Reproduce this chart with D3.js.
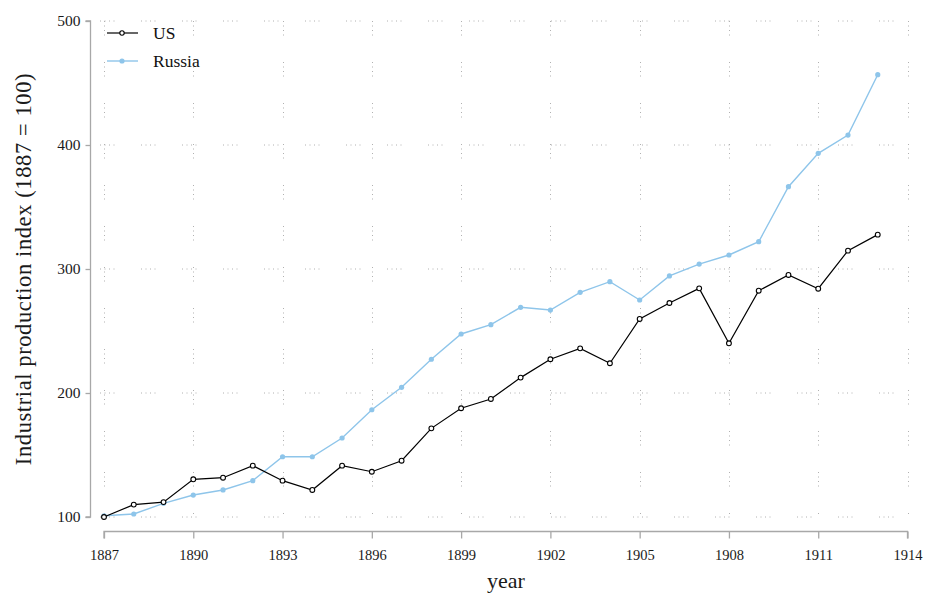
<!DOCTYPE html>
<html><head><meta charset="utf-8">
<script src="https://cdn.jsdelivr.net/npm/d3@7"></script>
<style>body{margin:0;background:#fff}svg{display:block}text{font-family:"Liberation Serif","Times New Roman",serif}</style>
</head><body><svg id="c" width="925" height="595"></svg>
<script>
const years = d3.range(1887, 1914);
const usValues = [100,110,112,130.4,131.7,141.4,129.3,121.8,141.4,136.5,145.4,171.5,187.7,195.2,212.4,227.2,236,224,259.7,272.6,284.4,240.1,282.5,295.2,284.1,314.8,327.7];
const russiaValues = [101,102.4,111,117.7,121.8,129.3,148.6,148.6,163.7,186.5,204.6,227.2,247.6,255.1,269.1,266.9,281.2,289.8,275,294.4,304,311.3,322,366.4,393.3,408,456.7];
const xTicks = [1887,1890,1893,1896,1899,1902,1905,1908,1911,1914];
const yTicks = [100,200,300,400,500];
const seriesNames = ["US","Russia"];

const svg = d3.select("#c");
const x = d3.scaleLinear().domain([1887,1914]).range([104,907.5]);
const y = d3.scaleLinear().domain([100,500]).range([517,21]);
const axisColor = "#a8a8a8", gridColor = "#b0b0b0";
const black = "#000", blue = "#8ec5ea";

// grid
const g = svg.append("g");
g.selectAll("line.h").data(yTicks).enter().append("line")
  .attr("x1", 92).attr("x2", 910).attr("y1", d=>y(d)).attr("y2", d=>y(d))
  .attr("stroke", gridColor).attr("stroke-width",1).attr("stroke-dasharray","1,3.5,1,3.5,1,3.5,1,26.5")
  .attr("stroke-dashoffset", -8);
g.selectAll("line.v").data(xTicks).enter().append("line")
  .attr("y1", y(500)).attr("y2", y(100)).attr("x1", d=>Math.round(x(d))+0.5).attr("x2", d=>Math.round(x(d))+0.5)
  .attr("stroke", gridColor).attr("stroke-width",1).attr("stroke-dasharray","1,3.5,1,3.5,1,3.5,1,26.5");

// axes
const ya = svg.append("g").attr("transform","translate(90.5,0)")
  .call(d3.axisLeft(y).tickValues(yTicks).tickSize(5).tickPadding(5).tickSizeOuter(0));
const xa = svg.append("g").attr("transform","translate(0,531.5)")
  .call(d3.axisBottom(x).tickValues(xTicks).tickFormat(d3.format("d")).tickSize(7).tickPadding(11).tickSizeOuter(0));
[ya,xa].forEach(a=>{
  a.select(".domain").attr("stroke",axisColor).attr("stroke-width",1.3);
  a.selectAll(".tick line").attr("stroke",axisColor).attr("stroke-width",1.3);
  a.selectAll(".tick text").attr("fill","#1a1a1a").style("font-family","'Liberation Serif',serif");
});
ya.selectAll(".tick text").style("font-size","15.5px");
xa.selectAll(".tick text").style("font-size","14.5px");
xa.select(".domain").attr("d", `M${x(1887)},7V0H${x(1914)}V7`);
ya.select(".domain").attr("d", `M-5,${y(500)}H0V${y(100)}H-5`);

svg.append("text").attr("x", 506).attr("y", 588).attr("text-anchor","middle")
  .style("font-size","22px").attr("fill","#1a1a1a").text("year");
svg.append("text").attr("transform","translate(31,269) rotate(-90)").attr("text-anchor","middle")
  .style("font-size","22.5px").style("letter-spacing","0.6px").attr("fill","#1a1a1a").text("Industrial production index (1887 = 100)");

// lines
const line = d3.line().x((d,i)=>x(years[i])).y(d=>y(d));
svg.append("path").datum(russiaValues).attr("d",line).attr("fill","none").attr("stroke",blue).attr("stroke-width",1.4);
svg.selectAll("circle.r").data(russiaValues).enter().append("circle")
  .attr("cx",(d,i)=>x(years[i])).attr("cy",d=>y(d)).attr("r",2.6).attr("fill",blue);
svg.append("path").datum(usValues).attr("d",line).attr("fill","none").attr("stroke",black).attr("stroke-width",1.2);
svg.selectAll("circle.u").data(usValues).enter().append("circle")
  .attr("cx",(d,i)=>x(years[i])).attr("cy",d=>y(d)).attr("r",2.4).attr("fill","#fff").attr("stroke",black).attr("stroke-width",1.1);

// legend
const lg = svg.append("g");
const lgColors = [black, blue];
seriesNames.forEach((n,i)=>{
  const yy = 33 + i*28;
  lg.append("line").attr("x1",107).attr("x2",138).attr("y1",yy).attr("y2",yy).attr("stroke",lgColors[i]).attr("stroke-width",i?1.4:1.2);
  if(i===0) lg.append("circle").attr("cx",122).attr("cy",yy).attr("r",2.2).attr("fill","#fff").attr("stroke",black).attr("stroke-width",1.1);
  else lg.append("circle").attr("cx",122).attr("cy",yy).attr("r",2.6).attr("fill",blue);
  lg.append("text").attr("x",153).attr("y",yy+6).style("font-size","17.5px").attr("fill","#111").text(n);
});
</script></body></html>
